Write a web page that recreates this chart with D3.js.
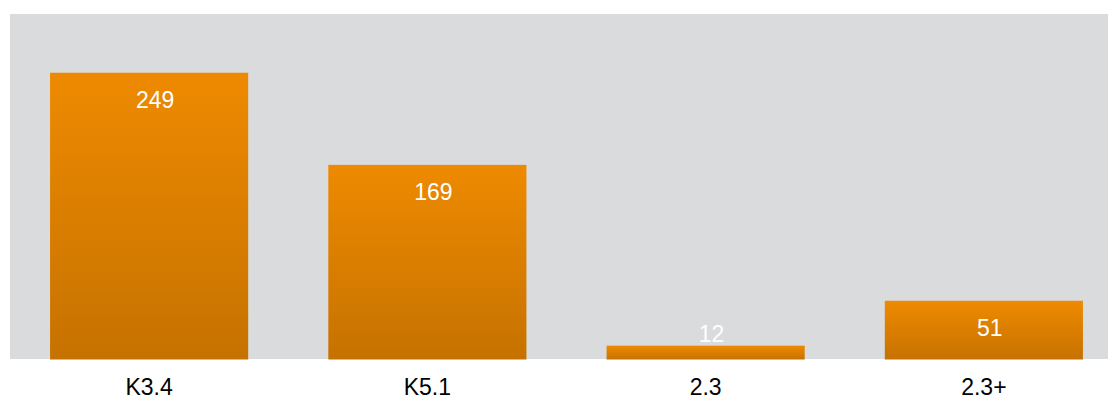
<!DOCTYPE html>
<html><head><meta charset="utf-8">
<script src="https://cdn.jsdelivr.net/npm/d3@7"></script>
<style>body{margin:0;background:#fff}svg{display:block;font-family:"Liberation Sans",Arial,Helvetica,sans-serif}</style>
</head><body><svg id="c" width="1109" height="398"></svg>
<script>
const categories = ["K3.4", "K5.1", "2.3", "2.3+"];
const values = [249, 169, 12, 51];

const svg = d3.select("#c");
const plotTop = 14, plotBottom = 359.5, plotLeft = 10, plotRight = 1108;

const defs = svg.append("defs");
const grad = defs.append("linearGradient").attr("id", "g").attr("x1", 0).attr("y1", 0).attr("x2", 0).attr("y2", 1);
grad.append("stop").attr("offset", "0%").attr("stop-color", "#EE8A00");
grad.append("stop").attr("offset", "100%").attr("stop-color", "#C67200");

svg.append("rect").attr("x", plotLeft).attr("y", plotTop)
  .attr("width", plotRight - plotLeft).attr("height", 359 - plotTop).attr("fill", "#DADBDD");

const x = d3.scaleBand().domain(categories).range([10, 1123]).paddingInner(0.288).paddingOuter(0.144);
const y = d3.scaleLinear().domain([0, 300]).range([plotBottom, plotTop]);

const data = categories.map((c, i) => ({c, v: values[i]}));

svg.selectAll("rect.bar").data(data).join("rect").attr("class", "bar")
  .attr("x", d => x(d.c)).attr("width", x.bandwidth())
  .attr("y", d => y(d.v)).attr("height", d => plotBottom - y(d.v))
  .attr("fill", "url(#g)");

svg.selectAll("text.val").data(data).join("text").attr("class", "val")
  .attr("x", d => x(d.c) + x.bandwidth() / 2 + 6)
  .attr("y", d => (plotBottom - y(d.v)) < 40 ? y(d.v) - 4 : y(d.v) + 35.5)
  .attr("text-anchor", "middle").attr("fill", "#fff").attr("font-size", 23)
  .text(d => d.v);

svg.selectAll("text.cat").data(data).join("text").attr("class", "cat")
  .attr("x", d => x(d.c) + x.bandwidth() / 2).attr("y", 394.5)
  .attr("text-anchor", "middle").attr("fill", "#000").attr("font-size", 23)
  .text(d => d.c);
</script></body></html>
